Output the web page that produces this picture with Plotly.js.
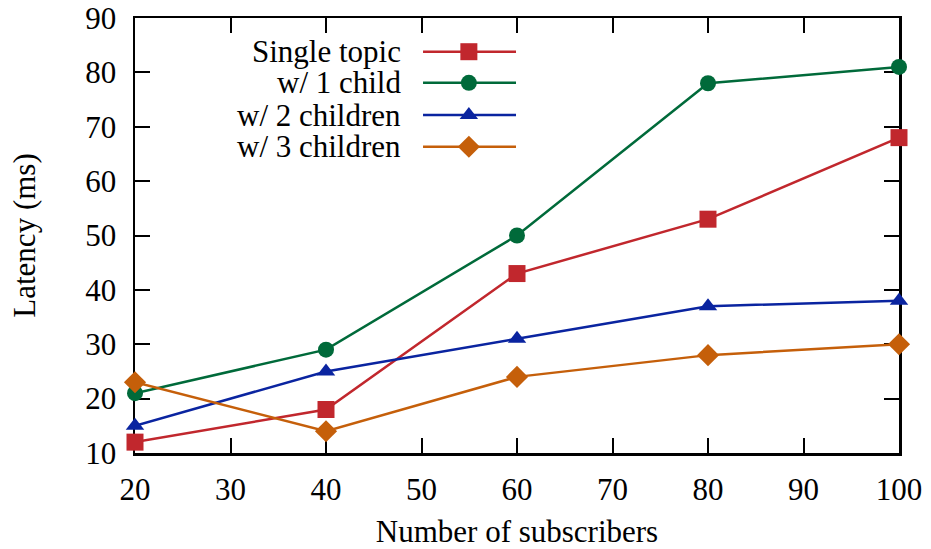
<!DOCTYPE html>
<html>
<head>
<meta charset="utf-8">
<script src="https://cdn.plot.ly/plotly-3.0.1.min.js"></script>
<style>html,body{margin:0;padding:0;background:#fff;}#chart{width:931px;height:549px;}</style>
</head>
<body>
<div id="chart"></div>
<script>
const subscribers = [20, 40, 60, 80, 100];
const seriesNames = ["Single topic", "w/ 1 child", "w/ 2 children", "w/ 3 children"];
const singleTopic = [12, 18, 43, 53, 68];
const oneChild = [21, 29, 50, 78, 81];
const twoChildren = [15, 25, 31, 37, 38];
const threeChildren = [23, 14, 24, 28, 30];
const xTickVals = [20, 30, 40, 50, 60, 70, 80, 90, 100];
const yTickVals = [10, 20, 30, 40, 50, 60, 70, 80, 90];

const seriesValues = [singleTopic, oneChild, twoChildren, threeChildren];
const colors = ["#c1272d", "#006a3a", "#0a24a0", "#c55f0a"];
const symbols = ["square", "circle", "triangle-up", "diamond"];
const sizes = [17, 16, 16, 17];

const FONT = "Liberation Serif";
const FS = 31;

const traces = [];
seriesValues.forEach((vals, i) => {
  traces.push({
    x: subscribers, y: vals, type: "scatter", mode: "lines+markers",
    name: seriesNames[i], showlegend: false, cliponaxis: false,
    line: {color: colors[i], width: 2.5},
    marker: {color: colors[i], symbol: symbols[i], size: sizes[i], line: {width: 0}}
  });
});

// custom legend (text left of sample) on a hidden overlay axis pair
const legRowsY = [0.9225, 0.851, 0.777, 0.704];
const legX0 = 0.377, legX1 = 0.4987, legXm = 0.437;
const annotations = [];
seriesNames.forEach((n, i) => {
  traces.push({
    x: [legX0, legX1], y: [legRowsY[i], legRowsY[i]], xaxis: "x2", yaxis: "y2",
    type: "scatter", mode: "lines", showlegend: false, hoverinfo: "skip", cliponaxis: false,
    line: {color: colors[i], width: 2.5}
  });
  traces.push({
    x: [legXm], y: [legRowsY[i]], xaxis: "x2", yaxis: "y2",
    type: "scatter", mode: "markers", showlegend: false, hoverinfo: "skip", cliponaxis: false,
    marker: {color: colors[i], symbol: symbols[i], size: sizes[i], line: {width: 0}}
  });
  annotations.push({
    text: n, xref: "paper", yref: "paper", x: 0.3508, y: legRowsY[i],
    xanchor: "right", yanchor: "middle", showarrow: false,
    font: {family: FONT, size: FS, color: "#000"}
  });
});

const axisCommon = {
  showgrid: false, zeroline: false, showline: true, linecolor: "#000", linewidth: 2.5,
  ticks: "inside", ticklen: 15, tickwidth: 2, tickcolor: "#000", mirror: "ticks",
  tickfont: {family: FONT, size: FS, color: "#000"}, layer: "below traces", fixedrange: true
};

const layout = {
  width: 931, height: 549,
  margin: {l: 135, r: 32, t: 18, b: 96, pad: 0},
  paper_bgcolor: "#fff", plot_bgcolor: "#fff",
  font: {family: FONT, size: FS, color: "#000"},
  showlegend: false,
  xaxis: Object.assign({}, axisCommon, {
    range: [20, 100], tickvals: xTickVals, ticklabelstandoff: 7,
    title: {text: "Number of subscribers", font: {family: FONT, size: FS, color: "#000"}, standoff: 20}
  }),
  yaxis: Object.assign({}, axisCommon, {
    range: [10, 90], tickvals: yTickVals, ticklabelstandoff: 10,
    title: {text: "Latency (ms)", font: {family: FONT, size: FS, color: "#000"}, standoff: 41}
  }),
  xaxis2: {domain: [0, 1], range: [0, 1], anchor: "y2", overlaying: "x", visible: false, fixedrange: true},
  yaxis2: {domain: [0, 1], range: [0, 1], anchor: "x2", overlaying: "y", visible: false, fixedrange: true},
  annotations: annotations
};

Plotly.newPlot("chart", traces, layout, {displayModeBar: false, staticPlot: true});
</script>
</body>
</html>
